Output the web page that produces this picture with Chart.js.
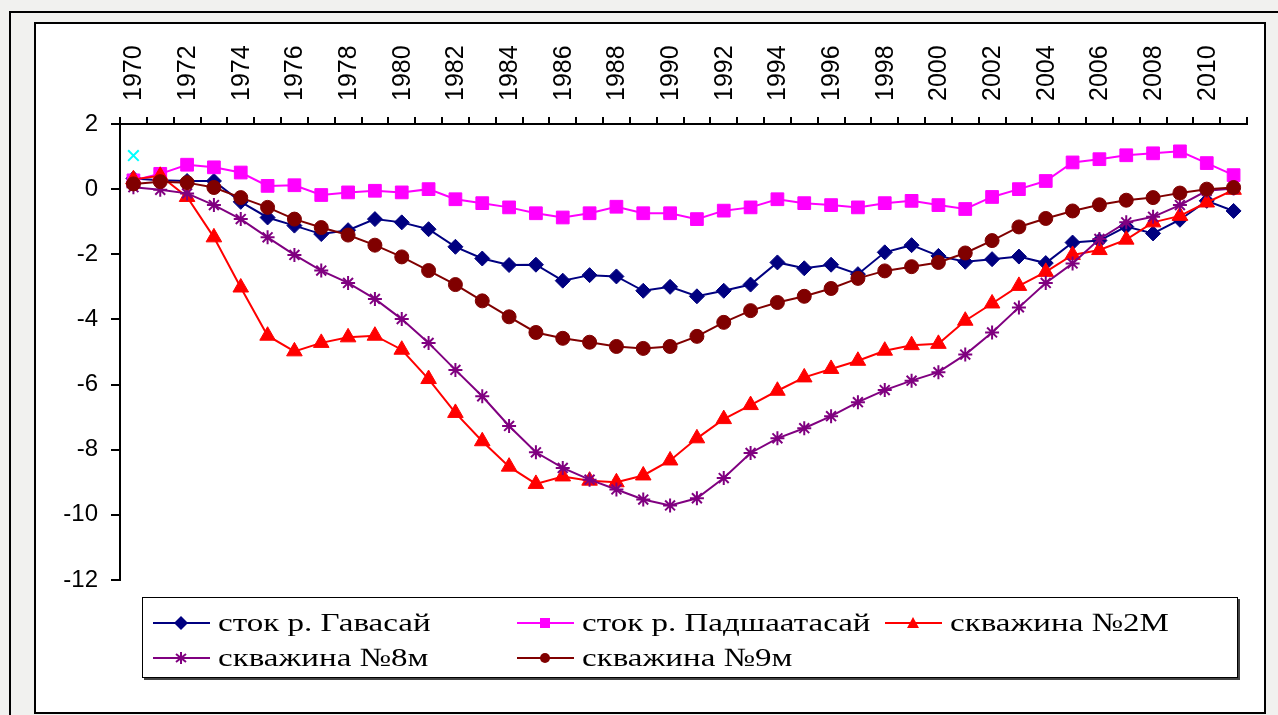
<!DOCTYPE html>
<html>
<head>
<meta charset="utf-8">
<script src="https://cdn.jsdelivr.net/npm/chart.js@4.4.0/dist/chart.umd.min.js"></script>
<style>
  html, body { margin:0; padding:0; }
  body { width:1278px; height:715px; position:relative; overflow:hidden; background:#f1f1ef; }
  #outer { position:absolute; left:9px; top:11px; width:1300px; height:720px; border:2px solid #000; box-sizing:border-box; }
  #inner { position:absolute; left:34px; top:22px; width:1232px; height:692px; border:2px solid #000; box-sizing:border-box; background:#fff; }
  #c { position:absolute; left:0; top:0; }
  #legend { position:absolute; left:142px; top:597px; width:1096px; height:81px; border:1px solid #000; box-sizing:border-box; background:#fff; box-shadow:2px 2px 0 #444; }
  .item { position:absolute; height:35px; display:flex; align-items:center; white-space:nowrap; }
  .item svg { flex:none; }
  .item span { display:inline-block; margin-left:8px; font-family:"Liberation Serif","Times New Roman",serif; font-size:26px; color:#000; transform:scaleX(1.27); transform-origin:left center; }
</style>
</head>
<body>
<div id="outer"></div>
<div id="inner"></div>
<canvas id="c" width="1278" height="715"></canvas>
<div id="legend"></div>
<script>
const years = [1970,1971,1972,1973,1974,1975,1976,1977,1978,1979,1980,1981,1982,1983,1984,1985,1986,1987,1988,1989,1990,1991,1992,1993,1994,1995,1996,1997,1998,1999,2000,2001,2002,2003,2004,2005,2006,2007,2008,2009,2010,2011];
const gavasai = [0.33,0.27,0.25,0.25,-0.39,-0.87,-1.12,-1.38,-1.26,-0.92,-1.02,-1.23,-1.77,-2.13,-2.33,-2.32,-2.81,-2.64,-2.68,-3.12,-3.00,-3.29,-3.12,-2.93,-2.25,-2.43,-2.32,-2.61,-1.94,-1.72,-2.05,-2.23,-2.15,-2.07,-2.27,-1.64,-1.58,-1.15,-1.36,-0.94,-0.36,-0.67];
const padsha = [0.27,0.47,0.75,0.67,0.51,0.10,0.12,-0.18,-0.10,-0.05,-0.10,0.00,-0.31,-0.43,-0.56,-0.74,-0.87,-0.74,-0.54,-0.74,-0.74,-0.92,-0.66,-0.56,-0.31,-0.43,-0.49,-0.56,-0.43,-0.36,-0.49,-0.61,-0.24,0.00,0.25,0.82,0.92,1.04,1.10,1.16,0.80,0.43];
const well2m = [0.30,0.41,-0.24,-1.48,-3.02,-4.50,-4.98,-4.72,-4.55,-4.50,-4.93,-5.83,-6.87,-7.74,-8.52,-9.05,-8.82,-8.95,-9.00,-8.79,-8.33,-7.65,-7.06,-6.63,-6.19,-5.78,-5.52,-5.27,-4.96,-4.79,-4.75,-4.04,-3.51,-2.97,-2.54,-2.02,-1.87,-1.55,-1.02,-0.82,-0.41,-0.02];
const well8m = [0.06,-0.02,-0.13,-0.49,-0.92,-1.48,-2.02,-2.50,-2.88,-3.37,-3.99,-4.72,-5.55,-6.36,-7.27,-8.08,-8.56,-8.92,-9.22,-9.53,-9.71,-9.49,-8.87,-8.10,-7.65,-7.34,-6.97,-6.54,-6.17,-5.88,-5.62,-5.08,-4.40,-3.63,-2.88,-2.28,-1.53,-1.02,-0.85,-0.49,-0.05,0.02];
const well9m = [0.16,0.23,0.20,0.05,-0.26,-0.56,-0.92,-1.18,-1.41,-1.72,-2.08,-2.50,-2.93,-3.43,-3.92,-4.40,-4.58,-4.70,-4.83,-4.89,-4.83,-4.52,-4.09,-3.73,-3.48,-3.29,-3.05,-2.74,-2.51,-2.38,-2.25,-1.96,-1.58,-1.16,-0.90,-0.67,-0.48,-0.34,-0.26,-0.12,0.00,0.05];
const stray = [1.03];
const seriesNames = ['сток р. Гавасай','сток р. Падшаатасай','скважина №2М','скважина №8м','скважина №9м'];
const yTicks = [2,0,-2,-4,-6,-8,-10,-12];

function ds(label, data, color, style, radius, order, extra) {
  return Object.assign({
    label, data, borderColor: color, backgroundColor: color,
    pointBackgroundColor: color, pointBorderColor: color,
    pointStyle: style, pointRadius: radius, pointHoverRadius: radius,
    pointBorderWidth: 1, borderWidth: 2, tension: 0, order
  }, extra || {});
}

new Chart(document.getElementById('c').getContext('2d'), {
  type: 'line',
  data: {
    labels: years.map(String),
    datasets: [
      ds(seriesNames[0], gavasai, '#000080', 'rectRot', 7.5, 5),
      ds(seriesNames[1], padsha, '#FF00FF', 'rect', 9, 4),
      ds(seriesNames[2], well2m, '#FF0000', 'triangle', 9, 3),
      ds(seriesNames[3], well8m, '#800080', 'star', 7, 2, {pointBorderWidth: 2}),
      ds(seriesNames[4], well9m, '#800000', 'circle', 7, 1),
      ds('', stray, '#00FFFF', 'crossRot', 7.5, 0, {showLine: false, pointBorderWidth: 2})
    ]
  },
  options: {
    responsive: false, animation: false, devicePixelRatio: 1,
    layout: { padding: { left: 0, top: 0, right: 31, bottom: 135 } },
    plugins: { legend: { display: false }, tooltip: { enabled: false } },
    scales: {
      x: {
        type: 'category', position: 'top', offset: true,
        grid: { offset: true, drawOnChartArea: false, drawTicks: true, tickLength: 7, color: '#000', lineWidth: 2 },
        border: { display: true, color: '#000', width: 2 },
        ticks: {
          autoSkip: false, maxRotation: 90, minRotation: 90, padding: 16, labelOffset: 31, color: '#000',
          font: { family: '"Liberation Sans", Arial, sans-serif', size: 25 },
          callback: function (v, i) { return i % 2 === 0 ? this.getLabelForValue(v) : ''; }
        },
        afterFit: function (s) { s.height = 124; }
      },
      y: {
        min: Math.min(...yTicks), max: Math.max(...yTicks),
        ticks: { stepSize: 2, padding: 13, color: '#000', font: { family: '"Liberation Sans", Arial, sans-serif', size: 24 } },
        grid: { drawOnChartArea: false, tickLength: 9, color: '#000', lineWidth: 2 },
        border: { display: true, color: '#000', width: 2 },
        afterFit: function (s) { s.width = 120; }
      }
    }
  }
});

// HTML legend
const markers = {
  rectRot: c => `<polygon points="28,3 35,10 28,17 21,10" fill="${c}"/>`,
  rect: c => `<rect x="23" y="5" width="10" height="10" fill="${c}"/>`,
  triangle: c => `<polygon points="28,4 34,15 22,15" fill="${c}"/>`,
  star: c => `<g stroke="${c}" stroke-width="2"><line x1="28" y1="4" x2="28" y2="16"/><line x1="23" y1="6" x2="33" y2="14"/><line x1="33" y1="6" x2="23" y2="14"/></g>`,
  circle: c => `<circle cx="28" cy="10" r="5" fill="${c}"/>`
};
const legendItems = [
  { name: seriesNames[0], color: '#000080', m: 'rectRot', x: 153, row: 0 },
  { name: seriesNames[1], color: '#FF00FF', m: 'rect', x: 517, row: 0 },
  { name: seriesNames[2], color: '#FF0000', m: 'triangle', x: 885, row: 0 },
  { name: seriesNames[3], color: '#800080', m: 'star', x: 153, row: 1 },
  { name: seriesNames[4], color: '#800000', m: 'circle', x: 517, row: 1 }
];
const rowCenters = [623, 658];
const lg = document.getElementById('legend');
legendItems.forEach(it => {
  const d = document.createElement('div');
  d.className = 'item';
  d.style.left = (it.x - 143) + 'px';
  d.style.top = (rowCenters[it.row] - 598 - 17.5) + 'px';
  d.innerHTML = `<svg width="57" height="20" viewBox="0 0 57 20"><line x1="0" y1="10" x2="57" y2="10" stroke="${it.color}" stroke-width="2"/>${markers[it.m](it.color)}</svg><span>${it.name}</span>`;
  lg.appendChild(d);
});
</script>
</body>
</html>
